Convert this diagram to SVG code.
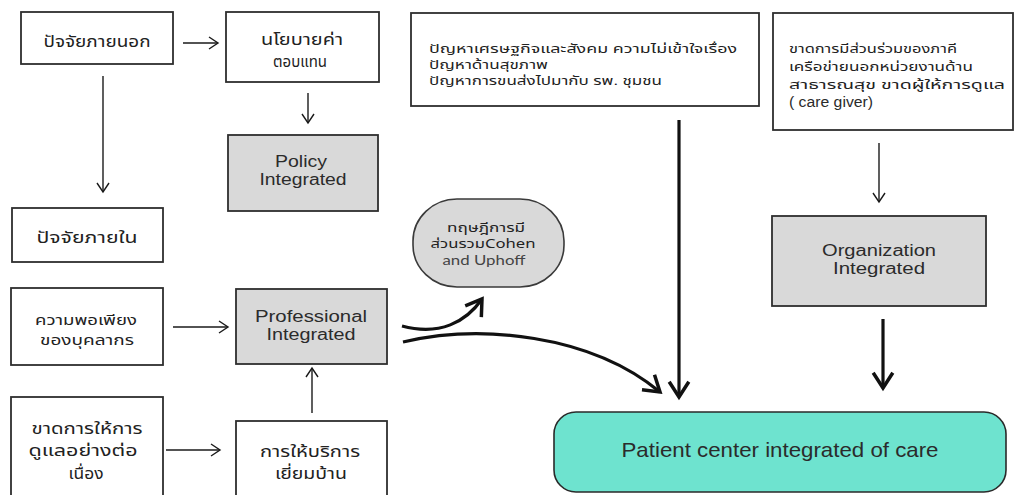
<svg xmlns="http://www.w3.org/2000/svg" width="1016" height="495" viewBox="0 0 1016 495">
<style>
.box{fill:#ffffff;stroke:#2e2e2e;stroke-width:1.8}
.gbox{fill:#d9d9d9;stroke:#2e2e2e;stroke-width:1.8}
.th{font-family:"Noto Sans Thai","Noto Sans Thai Looped","Loma","Garuda",sans-serif;fill:#222}
.en{font-family:"Liberation Sans",Arial,sans-serif;fill:#2b2b2b}
.c{text-anchor:middle}
.thin{fill:none;stroke:#1a1a1a;stroke-width:1.4}
.thick{fill:none;stroke:#111;stroke-width:3.2}
</style>
<defs>
<marker id="ah" markerUnits="userSpaceOnUse" markerWidth="14" markerHeight="16" refX="11" refY="7" orient="auto" viewBox="0 0 14 14">
<path d="M2,1 L11,7 L2,13" fill="none" stroke="#1a1a1a" stroke-width="1.4"/>
</marker>
<marker id="ahb" markerUnits="userSpaceOnUse" markerWidth="22" markerHeight="24" refX="16" refY="11" orient="auto" viewBox="0 0 20 22">
<path d="M2,2 L16,11 L2,20" fill="none" stroke="#111" stroke-width="3.2"/>
</marker>
</defs>

<g id="connectors">
<line class="thin" x1="183" y1="43" x2="218" y2="43" marker-end="url(#ah)"/>
<line class="thin" x1="103" y1="76" x2="103" y2="192" marker-end="url(#ah)"/>
<line class="thin" x1="308" y1="93" x2="308" y2="123" marker-end="url(#ah)"/>
<line class="thin" x1="173" y1="327" x2="228" y2="327" marker-end="url(#ah)"/>
<line class="thin" x1="166" y1="450" x2="220" y2="450" marker-end="url(#ah)"/>
<line class="thin" x1="312" y1="413" x2="312" y2="368" marker-end="url(#ah)"/>
<line class="thin" x1="879" y1="143" x2="879" y2="202" marker-end="url(#ah)"/>
<line class="thick" x1="679" y1="120" x2="679" y2="397" marker-end="url(#ahb)"/>
<line class="thick" x1="883" y1="319" x2="883" y2="388" marker-end="url(#ahb)"/>
<path class="thick" d="M402,326 C440,336 466,322 482,299" marker-end="url(#ahb)"/>
<path class="thick" d="M403,342 C480,324 590,334 660,392" marker-end="url(#ahb)"/>
</g>

<g id="n-external">
<rect class="box" x="21" y="12" width="152" height="52"/>
<text class="th c" x="97" y="47" font-size="16" textLength="107" lengthAdjust="spacingAndGlyphs">ปัจจัยภายนอก</text>
</g>
<g id="n-policy-pay">
<rect class="box" x="226" y="12" width="153" height="70"/>
<text class="th c" x="302" y="45" font-size="15" textLength="82" lengthAdjust="spacingAndGlyphs">นโยบายค่า</text>
<text class="th c" x="300" y="67" font-size="15" textLength="54" lengthAdjust="spacingAndGlyphs">ตอบแทน</text>
</g>
<g id="n-policy-integrated">
<rect class="gbox" x="228" y="135" width="150" height="76"/>
<text class="en c" x="301" y="167" font-size="16" textLength="52" lengthAdjust="spacingAndGlyphs">Policy</text>
<text class="en c" x="303" y="185" font-size="16" textLength="87" lengthAdjust="spacingAndGlyphs">Integrated</text>
</g>
<g id="n-internal">
<rect class="box" x="12" y="208" width="151" height="54"/>
<text class="th c" x="87" y="243" font-size="16" textLength="101" lengthAdjust="spacingAndGlyphs">ปัจจัยภายใน</text>
</g>
<g id="n-staff">
<rect class="box" x="11" y="288" width="152" height="77"/>
<text class="th c" x="86" y="325" font-size="14.5" textLength="102" lengthAdjust="spacingAndGlyphs">ความพอเพียง</text>
<text class="th c" x="87" y="345" font-size="14.5" textLength="94" lengthAdjust="spacingAndGlyphs">ของบุคลากร</text>
</g>
<g id="n-professional">
<rect class="gbox" x="236" y="289" width="151" height="75"/>
<text class="en c" x="311" y="322" font-size="16" textLength="112" lengthAdjust="spacingAndGlyphs">Professional</text>
<text class="en c" x="311" y="340" font-size="16" textLength="89" lengthAdjust="spacingAndGlyphs">Integrated</text>
</g>
<g id="n-continuous">
<rect class="box" x="11" y="397" width="152" height="110"/>
<text class="th c" x="87" y="434" font-size="15.5" textLength="111" lengthAdjust="spacingAndGlyphs">ขาดการให้การ</text>
<text class="th c" x="83" y="456" font-size="15.5" textLength="109" lengthAdjust="spacingAndGlyphs">ดูแลอย่างต่อ</text>
<text class="th c" x="86" y="479" font-size="15.5" textLength="35" lengthAdjust="spacingAndGlyphs">เนื่อง</text>
</g>
<g id="n-homevisit">
<rect class="box" x="236" y="421" width="151" height="90"/>
<text class="th c" x="310" y="457" font-size="15.5" textLength="100" lengthAdjust="spacingAndGlyphs">การให้บริการ</text>
<text class="th c" x="311" y="479" font-size="15.5" textLength="72" lengthAdjust="spacingAndGlyphs">เยี่ยมบ้าน</text>
</g>
<g id="n-theory">
<rect x="413" y="199" width="151" height="88" rx="44" ry="42" fill="#d9d9d9" stroke="#3a3a3a" stroke-width="1.6"/>
<text class="th c" x="486" y="232" font-size="12" fill="#444" textLength="78" lengthAdjust="spacingAndGlyphs">ทฤษฎีการมี</text>
<text class="th c" x="483" y="248" font-size="12" fill="#444" textLength="105" lengthAdjust="spacingAndGlyphs">ส่วนรวมCohen</text>
<text class="c" x="484" y="265" font-size="13" fill="#444" font-family="Lato,'Open Sans',sans-serif" textLength="83" lengthAdjust="spacingAndGlyphs">and Uphoff</text>
</g>
<g id="n-problems">
<rect class="box" x="411" y="13" width="348" height="93"/>
<text class="th" x="429" y="53" font-size="11.5" textLength="308" lengthAdjust="spacingAndGlyphs">ปัญหาเศรษฐกิจและสังคม ความไม่เข้าใจเรื่อง</text>
<text class="th" x="429" y="69" font-size="11.5" textLength="119" lengthAdjust="spacingAndGlyphs">ปัญหาด้านสุขภาพ</text>
<text class="th" x="429" y="85" font-size="11.5" textLength="233" lengthAdjust="spacingAndGlyphs">ปัญหาการขนส่งไปมากับ รพ. ชุมชน</text>
</g>
<g id="n-network">
<rect class="box" x="773" y="13" width="240" height="117"/>
<text class="th" x="789" y="53" font-size="13" textLength="168" lengthAdjust="spacingAndGlyphs">ขาดการมีส่วนร่วมของภาคี</text>
<text class="th" x="789" y="71" font-size="13" textLength="184" lengthAdjust="spacingAndGlyphs">เครือข่ายนอกหน่วยงานด้าน</text>
<text class="th" x="789" y="89" font-size="13" textLength="216" lengthAdjust="spacingAndGlyphs">สาธารณสุข ขาดผู้ให้การดูแล</text>
<text class="en" x="789" y="107" font-size="14" textLength="84" lengthAdjust="spacingAndGlyphs">( care giver)</text>
</g>
<g id="n-organization">
<rect class="gbox" x="772" y="216" width="214" height="90"/>
<text class="en c" x="879" y="256" font-size="16" textLength="114" lengthAdjust="spacingAndGlyphs">Organization</text>
<text class="en c" x="879" y="274" font-size="16" textLength="92" lengthAdjust="spacingAndGlyphs">Integrated</text>
</g>
<g id="n-patient">
<rect x="554" y="412" width="452" height="80" rx="22" ry="22" fill="#6ee3cf" stroke="#2a2a2a" stroke-width="1.6"/>
<text class="en c" x="780" y="457" font-size="21" textLength="317" lengthAdjust="spacingAndGlyphs">Patient center integrated of care</text>
</g>
</svg>
